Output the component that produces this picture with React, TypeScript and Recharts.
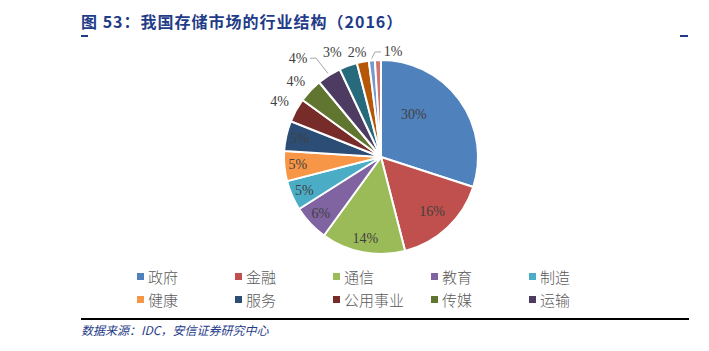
import { PieChart, Pie, Cell } from "recharts";

const categories = ["政府", "金融", "通信", "教育", "制造", "健康", "服务", "公用事业", "传媒", "运输", "其他1", "其他2", "其他3", "其他4"];
const shares = [30, 16, 14, 6, 5, 5, 5, 4, 4, 4, 3, 2, 1, 1];
const legendCount = 10;

const COLORS = ["#4F81BD", "#C0504D", "#9BBB59", "#8064A2", "#4BACC6", "#F79646", "#2C4D75", "#772C2A", "#5F7530", "#4D3B62", "#276A7C", "#B65708", "#729ACA", "#CD7371"];

// label placement: clock = degrees clockwise from 12 o'clock, k = fraction of radius
const LABEL_LAYOUT: Record<number, { k: number; clock?: number; leader?: boolean; hide?: boolean }> = {
  0: { k: 0.55, clock: 38 },
  1: { k: 0.77 },
  2: { k: 0.86 },
  3: { k: 0.85 },
  4: { k: 0.86 },
  5: { k: 0.86 },
  6: { k: 0.86 },
  7: { k: 1.19, clock: 298.6 },
  8: { k: 1.17, clock: 311.4 },
  9: { k: 1.33, clock: 320, leader: true },
  10: { k: 1.19, clock: 335 },
  11: { k: 1.11, clock: 347.1 },
  12: { k: 1.09, clock: 6.5, leader: true },
  13: { k: 1, hide: true },
};

const data = categories.map((name, i) => ({ name, value: shares[i] }));

const RAD = Math.PI / 180;

function renderLabel(props: any) {
  const { cx, cy, midAngle, outerRadius, index, value } = props;
  const cfg = LABEL_LAYOUT[index];
  if (!cfg || cfg.hide) return null;
  const clock = cfg.clock ?? 90 - midAngle;
  const r = outerRadius * cfg.k;
  const x = cx + r * Math.sin(clock * RAD);
  const y = cy - r * Math.cos(clock * RAD);
  let leader = null;
  if (cfg.leader) {
    const mClock = 90 - midAngle;
    const ex = cx + (outerRadius + 2) * Math.sin(mClock * RAD);
    const ey = cy - (outerRadius + 2) * Math.cos(mClock * RAD);
    const side = x < ex ? 1 : -1;
    const sx = x + side * 12;
    const kx = sx + side * 6;
    leader = <polyline points={`${sx},${y} ${kx},${y} ${ex},${ey}`} fill="none" stroke="#A6A6A6" strokeWidth={1} />;
  }
  return (
    <g>
      {leader}
      <text x={x} y={y} textAnchor="middle" dominantBaseline="central" fill="#404040" fontSize={14} fontFamily="'Liberation Serif', serif">
        {value}%
      </text>
    </g>
  );
}

export default function App() {
  return (
    <div style={{ position: "absolute", left: 0, top: 0, width: 709, height: 351, background: "#fff", overflow: "hidden" }}>
      <div style={{ position: "absolute", left: 81, top: 9, fontSize: 16, fontWeight: 700, color: "#1F3C88", fontFamily: "'Noto Sans CJK SC', sans-serif", letterSpacing: 1, whiteSpace: "nowrap" }}>
        图 53：我国存储市场的行业结构（2016）
      </div>
      <div style={{ position: "absolute", left: 81, top: 35, width: 7, height: 2, background: "#1F3C88" }} />
      <div style={{ position: "absolute", left: 680, top: 35, width: 8, height: 2, background: "#1F3C88" }} />

      <PieChart width={709} height={351} margin={{ top: 0, right: 0, bottom: 0, left: 0 }} style={{ position: "absolute", left: 0, top: 0 }}>
        <Pie
          data={data}
          dataKey="value"
          nameKey="name"
          cx={381}
          cy={157}
          outerRadius={97}
          startAngle={90}
          endAngle={-270}
          stroke="#fff"
          strokeWidth={2}
          label={renderLabel}
          labelLine={false}
          isAnimationActive={false}
        >
          {data.map((d, i) => (
            <Cell key={d.name} fill={COLORS[i]} />
          ))}
        </Pie>
      </PieChart>

      <div style={{ position: "absolute", left: 137, top: 266, width: 500, display: "grid", gridTemplateColumns: "repeat(5, 98px)", rowGap: 3 }}>
        {categories.slice(0, legendCount).map((c, i) => (
          <div key={c} style={{ display: "flex", alignItems: "center", fontSize: 15, color: "#595959", fontFamily: "'Noto Sans CJK SC', sans-serif", fontWeight: 300, height: 20 }}>
            <span style={{ width: 7, height: 7, background: COLORS[i], marginRight: 4, display: "inline-block" }} />
            {c}
          </div>
        ))}
      </div>

      <div style={{ position: "absolute", left: 81, top: 318, width: 608, height: 1.5, background: "#000" }} />
      <div style={{ position: "absolute", left: 81, top: 321, fontSize: 12, fontStyle: "italic", color: "#1F3C88", fontFamily: "'Noto Sans CJK SC', sans-serif", whiteSpace: "nowrap" }}>
        数据来源：IDC，安信证券研究中心
      </div>
    </div>
  );
}
